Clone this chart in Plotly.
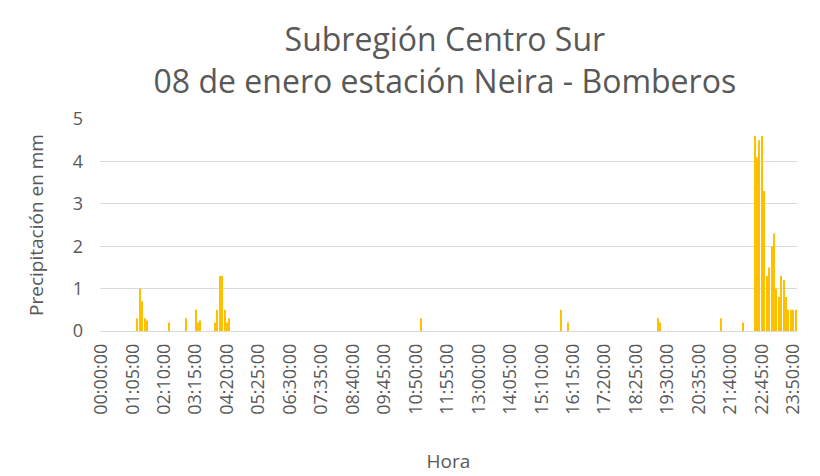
import plotly.graph_objects as go

# 5-minute intervals for the whole day
horas = [f"{m // 60:02d}:{m % 60:02d}:00" for m in range(0, 24 * 60, 5)]

# non-zero readings (interval index -> mm)
lluvia_idx = [15, 16, 17, 18, 19, 28, 35, 39, 40, 41, 47, 48, 49, 50, 51, 52, 53,
              132, 190, 193, 230, 231, 256, 265,
              270, 271, 272, 273, 274, 275, 276, 277, 278, 279, 280, 281, 282,
              283, 284, 285, 286, 287]
lluvia_mm = [0.3, 1.0, 0.7, 0.3, 0.25, 0.2, 0.3, 0.5, 0.2, 0.25, 0.2, 0.5, 1.3, 1.3, 0.5, 0.2, 0.3,
             0.3, 0.5, 0.2, 0.3, 0.2, 0.3, 0.2,
             4.6, 4.1, 4.5, 4.6, 3.3, 1.3, 1.5, 2.0, 2.3, 1.0, 0.8, 1.3, 1.2,
             0.8, 0.5, 0.5, 0.5, 0.5]

precip = [0.0] * len(horas)
for i, v in zip(lluvia_idx, lluvia_mm):
    precip[i] = v

etiquetas = horas[::13]

gris = "#595959"
fig = go.Figure()
fig.add_trace(go.Bar(x=horas, y=precip, marker=dict(color="#FFC000", line=dict(width=0))))

# page body adds an 8px margin, so the figure is a bit smaller than the window
fig.update_layout(
    width=812, height=468,
    paper_bgcolor="white", plot_bgcolor="white",
    font=dict(family="Open Sans", color=gris),
    title=dict(text="Subregión Centro Sur<br>08 de enero estación Neira - Bomberos",
               x=0.538, xanchor="center", y=1 - 43 / 468, yanchor="middle",
               font=dict(size=32, color=gris)),
    bargap=0.55,
    showlegend=False,
    margin=dict(l=92, r=23, t=111, b=145),
)
fig.update_xaxes(type="category", tickmode="array", tickvals=etiquetas, ticktext=etiquetas,
                 tickangle=-90, tickfont=dict(size=18, color=gris), automargin=False,
                 showgrid=False, showline=False, ticks="", ticklabelstandoff=8,
                 title=dict(text="Hora", font=dict(size=19, color=gris), standoff=40))
fig.update_yaxes(range=[0, 5], dtick=1, gridcolor="#D9D9D9", gridwidth=1,
                 zeroline=True, zerolinecolor="#D9D9D9", zerolinewidth=1, automargin=False,
                 tickfont=dict(size=18, color=gris), ticks="", ticklabelstandoff=16,
                 title=dict(text="Precipitación en mm", font=dict(size=19, color=gris), standoff=24))

fig.write_html("out.html")
